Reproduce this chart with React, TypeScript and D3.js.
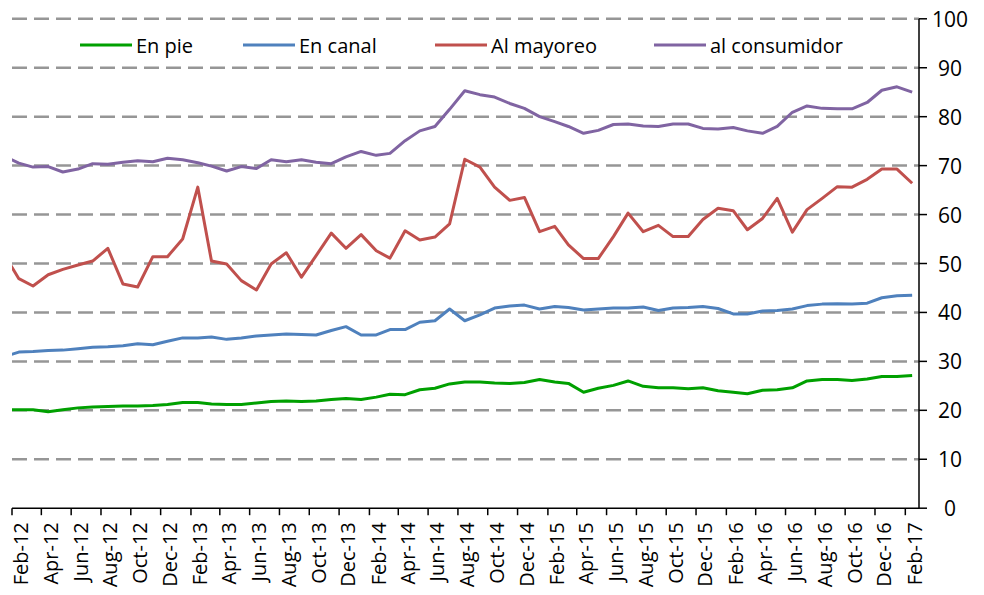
import React from "react";
import * as d3 from "d3";

// Monthly data, Jan-12 .. Feb-17 (Jan-12 lies left of the axis and is clipped)
const startYear = 2012;
const startMonth = 0; // January
const enPie = [
  20.1, 20.1, 20.1, 19.7, 20.1, 20.5, 20.7, 20.8, 20.9, 20.9, 21.0, 21.2,
  21.6, 21.6, 21.3, 21.2, 21.2, 21.5, 21.8, 21.9, 21.8, 21.9, 22.2, 22.4,
  22.2, 22.7, 23.3, 23.2, 24.2, 24.5, 25.4, 25.8, 25.8, 25.6, 25.5, 25.7,
  26.3, 25.8, 25.5, 23.7, 24.5, 25.1, 26.0, 24.9, 24.6, 24.6, 24.4, 24.6,
  24.0, 23.7, 23.4, 24.1, 24.2, 24.6, 26.0, 26.3, 26.3, 26.1, 26.4, 26.9,
  26.9, 27.1,
];
const enCanal = [
  30.9, 31.9, 32.0, 32.2, 32.3, 32.6, 32.9, 33.0, 33.2, 33.6, 33.4, 34.1,
  34.8, 34.8, 35.0, 34.5, 34.8, 35.2, 35.4, 35.6, 35.5, 35.4, 36.3, 37.1,
  35.4, 35.4, 36.5, 36.5, 38.0, 38.3, 40.7, 38.3, 39.5, 40.9, 41.3, 41.5,
  40.7, 41.2, 41.0, 40.5, 40.7, 40.9, 40.9, 41.1, 40.4, 40.9, 41.0, 41.2,
  40.8, 39.7, 39.7, 40.3, 40.4, 40.7, 41.4, 41.7, 41.8, 41.7, 41.9, 43.0,
  43.4, 43.5,
];
const alMayoreo = [
  52.0, 46.9, 45.4, 47.7, 48.8, 49.7, 50.5, 53.1, 45.8, 45.2, 51.4, 51.4,
  55.0, 65.6, 50.5, 49.9, 46.5, 44.6, 49.9, 52.2, 47.2, 51.6, 56.2, 53.1,
  55.9, 52.6, 51.1, 56.7, 54.8, 55.4, 58.1, 71.3, 69.7, 65.6, 62.9, 63.5,
  56.5, 57.6, 53.8, 51.0, 51.0, 55.5, 60.3, 56.5, 57.8, 55.5, 55.5, 59.0,
  61.3, 60.8, 56.9, 59.2, 63.3, 56.4, 61.0, 63.3, 65.7, 65.6, 67.2, 69.3,
  69.3, 66.4,
];
const alConsumidor = [
  72.0, 70.5, 69.7, 69.8, 68.7, 69.3, 70.4, 70.3, 70.7, 71.0, 70.8, 71.5,
  71.2, 70.6, 69.9, 68.9, 69.8, 69.4, 71.2, 70.8, 71.2, 70.7, 70.4, 71.8,
  72.9, 72.1, 72.5, 75.1, 77.1, 78.0, 81.5, 85.3, 84.5, 84.0, 82.7, 81.7,
  80.0, 79.0, 78.0, 76.6, 77.2, 78.4, 78.5, 78.1, 78.0, 78.5, 78.5, 77.6,
  77.5, 77.8, 77.1, 76.6, 78.0, 80.9, 82.2, 81.7, 81.6, 81.6, 82.9, 85.4,
  86.1, 85.0,
];
const seriesNames = ["En pie", "En canal", "Al mayoreo", "al consumidor"];
const seriesColors = ["#00A000", "#4F81BD", "#C0504D", "#8064A2"];
const yTicks = [0, 10, 20, 30, 40, 50, 60, 70, 80, 90, 100];

const W = 984;
const H = 595;
const left = 12;
const right = 919;
const top = 18.8;
const bottom = 508.2;

const fmt = d3.timeFormat("%b-%y");

export default function App() {
  const x = d3
    .scaleTime()
    .domain([new Date(2012, 1, 1), new Date(2017, 2, 1)])
    .range([left, right]);
  const y = d3.scaleLinear().domain([0, 100]).range([bottom, top]);

  const dates = enPie.map((_, i) => new Date(startYear, startMonth + i, 15));
  const allSeries = [enPie, enCanal, alMayoreo, alConsumidor];
  const line = d3
    .line<number>()
    .x((_, i) => x(dates[i]))
    .y((d) => y(d));

  const xTicks = d3.timeMonth.range(new Date(2012, 1, 1), new Date(2017, 1, 2), 2);

  const legendX = [80, 243, 435, 654];
  const font = "'Open Sans', sans-serif";

  return (
    <div style={{ position: "fixed", left: 0, top: 0 }}>
      <svg width={W} height={H} style={{ display: "block", background: "#fff" }}>
        <defs>
          <clipPath id="plot">
            <rect x={left} y={0} width={right - left} height={bottom} />
          </clipPath>
        </defs>
        {/* gridlines */}
        {yTicks
          .filter((t) => t > 0)
          .map((t) => (
            <line
              key={t}
              x1={left}
              x2={right}
              y1={y(t)}
              y2={y(t)}
              stroke="#969696"
              strokeWidth={2.5}
              strokeDasharray="15 7"
            />
          ))}
        {/* series */}
        <g clipPath="url(#plot)">
          {allSeries.map((s, k) => (
            <path
              key={k}
              d={line(s) || ""}
              fill="none"
              stroke={seriesColors[k]}
              strokeWidth={3}
              strokeLinejoin="round"
            />
          ))}
        </g>
        {/* x axis */}
        <line x1={left} x2={right} y1={bottom} y2={bottom} stroke="#000" strokeWidth={1.5} />
        {xTicks.map((d, i) => (
          <g key={i}>
            <line x1={x(d)} x2={x(d)} y1={bottom} y2={bottom + 7} stroke="#000" strokeWidth={1.5} />
            <text
              transform={`translate(${x(new Date(d.getFullYear(), d.getMonth(), 15)) + 2},${bottom + 14}) rotate(-90)`}
              textAnchor="end"
              dominantBaseline="central"
              fontFamily={font}
              fontSize={20}
              fill="#000"
            >
              {fmt(d)}
            </text>
          </g>
        ))}
        {/* y axis (right) */}
        <line x1={right} x2={right} y1={top} y2={bottom} stroke="#000" strokeWidth={1.5} />
        {yTicks.map((t) => (
          <g key={t}>
            <line x1={right} x2={right + 8} y1={y(t)} y2={y(t)} stroke="#000" strokeWidth={1.5} />
            <text
              x={950}
              y={y(t)}
              textAnchor="middle"
              dominantBaseline="central"
              fontFamily={font}
              fontSize={21}
              fill="#000"
            >
              {t}
            </text>
          </g>
        ))}
        {/* legend */}
        {seriesNames.map((n, k) => (
          <g key={n}>
            <line
              x1={legendX[k]}
              x2={legendX[k] + 52}
              y1={45}
              y2={45}
              stroke={seriesColors[k]}
              strokeWidth={3}
            />
            <text
              x={legendX[k] + 56}
              y={45}
              dominantBaseline="central"
              fontFamily={font}
              fontSize={20}
              fill="#000"
            >
              {n}
            </text>
          </g>
        ))}
      </svg>
    </div>
  );
}
